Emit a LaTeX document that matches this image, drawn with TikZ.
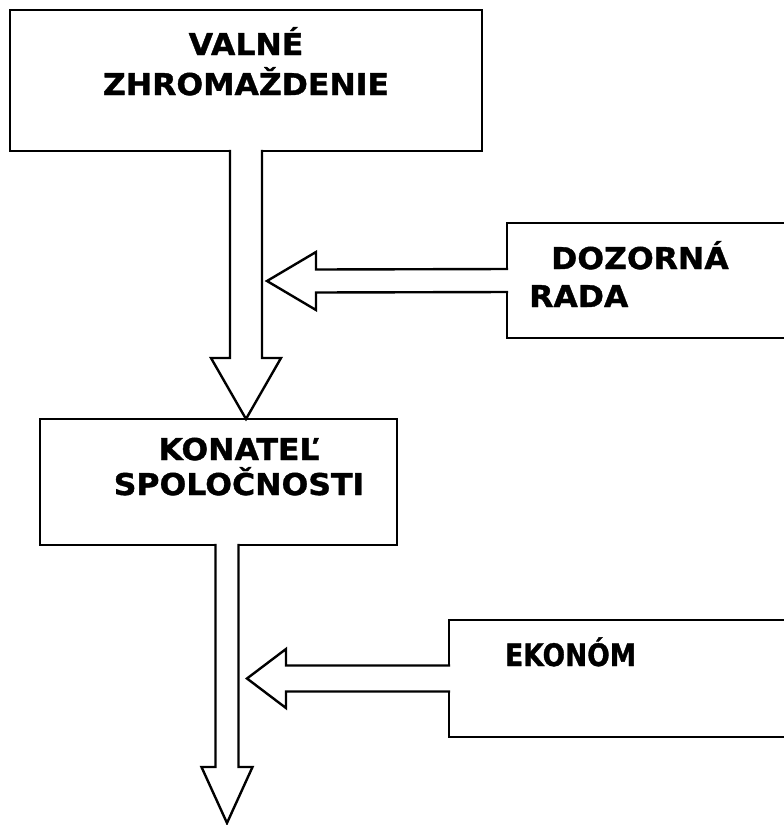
\documentclass[tikz,border=0pt]{standalone}
\usepackage{fontspec}
\setmainfont{DejaVu Sans}[FakeStretch=1.05, BoldFeatures={FakeBold=1.2}]
\usepackage{tikz}
\usetikzlibrary{positioning,calc}

% hollow block arrow pointing down: start, tip, shaft half width, head half width, head length
\newcommand{\arrowdown}[5]{%
\path[blockarrow] ($(#1)+(-#3,-1.2)$) -- ($(#2)+(-#3,-#5)$) -- ($(#2)+(-#4,-#5)$) -- (#2)
 -- ($(#2)+(#4,-#5)$) -- ($(#2)+(#3,-#5)$) -- ($(#1)+(#3,-1.2)$);}
% hollow block arrow pointing left
\newcommand{\arrowleft}[5]{%
\path[blockarrow] ($(#1)+(1.2,-#3)$) -- ($(#2)+(#5,-#3)$) -- ($(#2)+(#5,-#4)$) -- (#2)
 -- ($(#2)+(#5,#4)$) -- ($(#2)+(#5,#3)$) -- ($(#1)+(1.2,#3)$);}

\begin{document}
\begin{tikzpicture}
[x=1pt, y=-1pt, line width=2.4pt,
% STYLES
% The box style is used for the organs of the company
box/.style={rectangle, draw, outer sep=0pt, inner sep=0pt, anchor=north west},
% The title style is used for the names written in the boxes
title/.style={inner sep=0pt, align=center, font=\bfseries\fontsize{30}{40}\selectfont},
% The blockarrow style is used for the wide hollow arrows
blockarrow/.style={draw, fill=white, line join=miter}]

\clip (0,0) rectangle (784,825);

% Draw boxes
\node [box, minimum width=472, minimum height=141] (valne) at (10,10) {};
\node [box, minimum width=357, minimum height=126] (konatel) at (40,419) {};
\node [box, minimum width=330, minimum height=115] (dozor) at (507,223) {};
\node [box, minimum width=390, minimum height=117] (ekonom) at (449,620) {};

%%%%%%%%%%%%%%%
% Names

\node [title, anchor=base] (valne-text) at ($(valne.north)+(0,85)$) {VALNÉ\\[0pt]ZHROMAŽDENIE};

\node [title, anchor=base] (konatel-text) at ($(konatel.north)+(20.5,76)$) {KONATEĽ\\[-5pt]SPOLOČNOSTI};

\node [title, anchor=base west, align=left] (dozor-text) at ($(dozor.north west)+(21,84)$) {\hspace{22pt}DOZORNÁ\\[-2pt]RADA};

\node [title, anchor=base west] (ekonom-text) at ($(ekonom.north west)+(55,46)$) {\scalebox{0.84}[1.03]{EKONÓM}};

%%%%%%%%%%%%%%%

% Draw the arrows between boxes
\coordinate (out) at (227,823);
\arrowdown{valne.south}{valne.south |- konatel.north}{16}{35}{61}
\arrowdown{out |- konatel.south}{out}{11.5}{25.5}{56}
\arrowleft{dozor.west}{267,281}{11.5}{29}{49}
\arrowleft{ekonom.west}{247,678.5}{13}{29.5}{39}

\end{tikzpicture}
\end{document}
